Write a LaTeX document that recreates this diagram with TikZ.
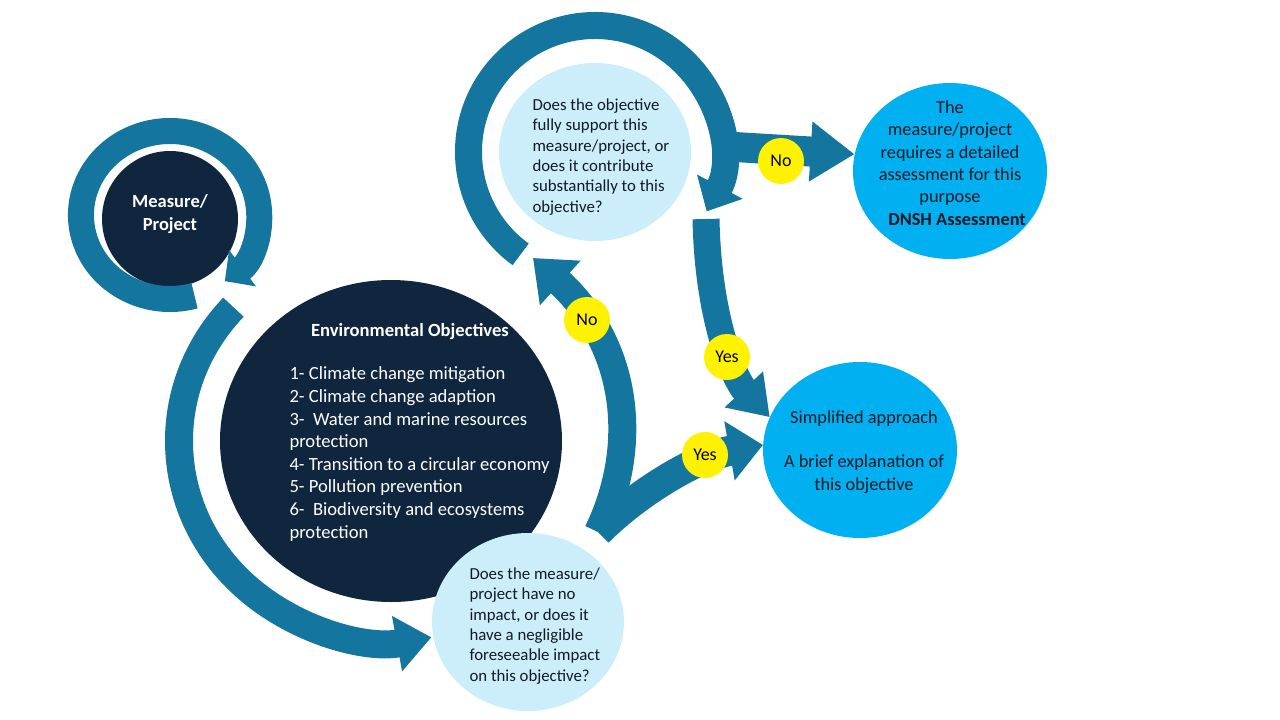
\documentclass[tikz,border=0pt]{standalone}
\usepackage{fontspec}
\setmainfont{Carlito}
\usetikzlibrary{arrows.meta,shapes.geometric}

\definecolor{navy}{HTML}{10263F}
\definecolor{ringblue}{HTML}{14769F}
\definecolor{paleblue}{HTML}{CCEEFA}
\definecolor{skyblue}{HTML}{00B0F0}
\definecolor{inkdark}{HTML}{111A26}

\begin{document}
\begin{tikzpicture}[x=1pt, y=1pt,
    disc/.style={ellipse, inner sep=0pt},
    navydisc/.style={disc, fill=navy},
    paledisc/.style={disc, fill=paleblue, minimum width=192pt, minimum height=178pt},
    skydisc/.style={disc, fill=skyblue, minimum width=194pt, minimum height=176pt},
    qtext/.style={align=left, text=inkdark, font=\fontsize{16.8}{20.3}\selectfont},
    stext/.style={align=center, text=inkdark, font=\fontsize{18.3}{22.3}\selectfont},
    yesno/.style={circle, fill=yellow, minimum size=46pt, inner sep=0pt, font=\fontsize{18}{20}\selectfont},
    band/.style={draw=ringblue, line width=#1},
  ]
  \useasboundingbox (0,0) rectangle (1280,-720);

  % Circles
  \node[navydisc, minimum width=136pt, minimum height=136pt] (measure) at (170,-219) {};
  \node[navydisc, minimum width=342pt, minimum height=322pt] (env) at (391,-441) {};
  \node[paledisc] (q1) at (595,-152) {};
  \node[paledisc] (q2) at (528,-622) {};
  \node[skydisc] (dnsh) at (950,-171) {};
  \node[skydisc] (simp) at (860,-450) {};

  % Texts
  \node[text=white, align=center, font=\bfseries\fontsize{18.5}{23}\selectfont] (measuretext) at (170,-214) {Measure/\\Project};
  \node[text=white, font=\bfseries\fontsize{18.6}{20}\selectfont] (envtitle) at (410,-332) {Environmental Objectives};
  \node[anchor=west, align=left, text=white, font=\fontsize{18.6}{22.6}\selectfont] (envlist) at (286,-454)
    {1- Climate change mitigation\\2- Climate change adaption\\3-\ \ Water and marine resources\\protection\\
     4- Transition to a circular economy\\5- Pollution prevention\\6-\ \ Biodiversity and ecosystems\\protection};
  \node[qtext, anchor=west] (q1text) at (529,-157)
    {Does the objective\\fully support this\\measure/project, or\\does it contribute\\substantially to this\\objective?};
  \node[qtext, anchor=west] (q2text) at (466,-626)
    {Does the measure/\\project have no\\impact, or does it\\have a negligible\\foreseeable impact\\on this objective?};
  \node[stext] (dnshtext) at (950,-163)
    {The\\measure/project\\requires a detailed\\assessment for this\\purpose\\\hspace*{14pt}\textbf{DNSH Assessment}};
  \node[stext] (simptext) at (864,-452)
    {Simplified approach\\[22.3pt]A brief explanation of\\this objective};

  % Ring arrows
  \begin{scope}[shift={(170,-215)}, xscale=1.06]
    \draw[band=26pt, -{Triangle[length=22pt, width=44pt]}] (286:84) arc[start angle=286, end angle=-52, radius=84];
  \end{scope}
  \begin{scope}[shift={(env.center)}, xscale=1.06]
    \draw[band=28pt, -{Triangle[length=35pt, width=54pt]}] (138:200) arc[start angle=138, end angle=281, radius=200];
  \end{scope}
  \begin{scope}[shift={(q1.center)}]
    \draw[band=27pt, -{Triangle[length=28pt, width=50pt]}] (234:126.5) arc[start angle=234, end angle=-28, radius=126.5];
  \end{scope}

  % Branch arrows
  \coordinate (fork) at (598,-532);
  \coordinate (notip) at (533,-258);
  \coordinate (nostart) at (718,-146);
  \coordinate (yestop) at (706,-219);
  \draw[band=28pt, -{Triangle[length=37pt, width=58pt]}] (fork) .. controls (640,-445) and (628,-345) .. (notip);
  \draw[band=30pt, -{Triangle[length=34pt, width=58pt]}] (fork) .. controls (640,-490) and (700,-456) .. (simp.177);
  \draw[band=27pt, -{Triangle[length=38pt, width=50pt]}] (yestop) .. controls (708,-320) and (735,-380) .. (simp.160);
  \draw[band=30pt, -{Triangle[length=44pt, width=57pt]}] (nostart) -- (dnsh.170);

  % Yes / No labels
  \node[yesno] (no1) at (781,-161) {No};
  \node[yesno] (no2) at (587,-320) {No};
  \node[yesno] (yes1) at (727,-357) {Yes};
  \node[yesno] (yes2) at (705,-455) {Yes};
\end{tikzpicture}
\end{document}
